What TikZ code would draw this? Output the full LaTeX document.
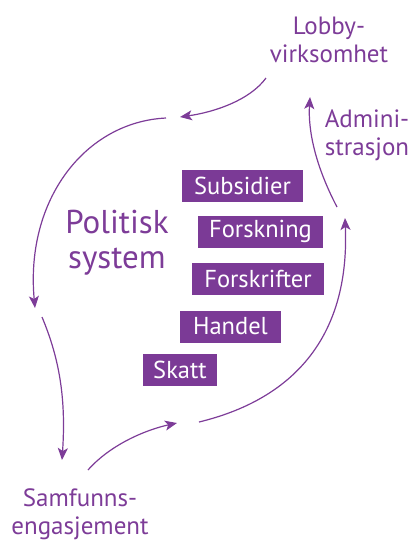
\documentclass[tikz,border=0pt]{standalone}
\usepackage{fontspec}
\setmainfont{PT Sans}
\usetikzlibrary{arrows.meta}
\definecolor{purp}{HTML}{7D3C98}
\definecolor{boxp}{HTML}{7B3A96}
\tikzset{
  lbl/.style={text=purp, font=\fontsize{25}{28}\selectfont, align=center, inner sep=0pt},
  big/.style={text=purp, font=\fontsize{33}{35}\selectfont, align=center, inner sep=0pt},
  tag/.style={fill=boxp, text=white, font=\fontsize{24.5}{26}\selectfont, inner sep=0pt, minimum height=32pt},
  flow/.style={draw=purp, line width=1.2pt, -{Stealth[length=12pt,width=10pt,inset=3pt]}},
}
\begin{document}
\begin{tikzpicture}[x=1pt,y=-1pt]
\useasboundingbox (0,0) rectangle (411,542);
\node[lbl] (lobby) at (329,40) {Lobby-\\virksomhet};
\node[lbl] (admin) at (367,135) {Admini-\\strasjon};
\node[big] (pol) at (117,243) {Politisk\\system};
\node[lbl] (samf) at (80,514) {Samfunns-\\engasjement};
\node[tag, minimum width=121pt] (sub) at (242.5,186) {Subsidier};
\node[tag, minimum width=125pt] (fors) at (260.5,231.5) {Forskning};
\node[tag, minimum width=132pt] (fsk) at (258,279) {Forskrifter};
\node[tag, minimum width=101pt] (han) at (230.5,326.5) {Handel};
\node[tag, minimum width=74pt] (sk) at (180,370) {Skatt};
\coordinate (a1s) at (266,78);
\coordinate (a1e) at (180,117);
\coordinate (a2s) at (166,118);
\coordinate (a2e) at (35,308);
\coordinate (a3s) at (42,317);
\coordinate (a3e) at (62,460);
\coordinate (a4s) at (88,470);
\coordinate (a4e) at (177,423);
\coordinate (a5s) at (199,422);
\coordinate (a5e) at (345,218);
\coordinate (a6s) at (337,207);
\coordinate (a6e) at (310,97);
\draw[flow] (a1s) .. controls (250,100) and (215,112) .. (a1e);
\draw[flow] (a2s) .. controls (85,122) and (25,200) .. (a2e);
\draw[flow] (a3s) .. controls (60,360) and (66,400) .. (a3e);
\draw[flow] (a4s) .. controls (110,445) and (145,430) .. (a4e);
\draw[flow] (a5s) .. controls (290,400) and (350,340) .. (a5e);
\draw[flow] (a6s) .. controls (315,165) and (308,130) .. (a6e);
\end{tikzpicture}
\end{document}
